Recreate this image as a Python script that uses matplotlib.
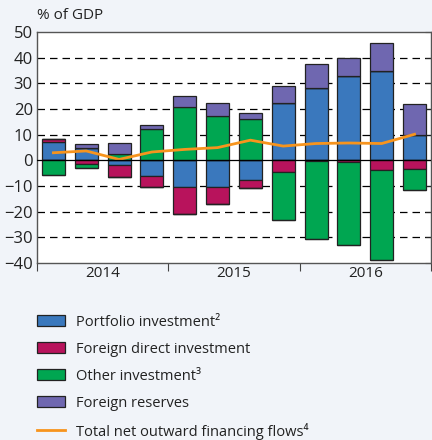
import matplotlib
matplotlib.use("Agg")
import matplotlib.pyplot as plt
import numpy as np
from matplotlib.patches import Patch
from matplotlib.lines import Line2D

quarters = ["2014Q1", "2014Q2", "2014Q3", "2014Q4", "2015Q1", "2015Q2", "2015Q3", "2015Q4",
            "2016Q1", "2016Q2", "2016Q3", "2016Q4"]
years = ["2014", "2015", "2016"]
portfolio = [7.2, 5.0, -1.7, -6.2, -10.5, -10.5, -7.6, 22.5, 28.3, 33.0, 34.7, 10.1]
fdi = [1.3, -1.3, -4.9, -4.3, -10.5, -6.5, -3.3, -4.6, -0.3, -0.5, -3.7, -3.4]
other = [-5.5, -1.6, 2.6, 12.1, 21.0, 17.4, 16.1, -18.7, -30.2, -32.3, -35.0, -8.1]
reserves = [0.0, 1.3, 4.3, 1.7, 4.3, 4.9, 2.5, 6.6, 9.1, 7.0, 11.0, 11.8]
total = [3.0, 3.7, 0.4, 3.3, 4.3, 5.0, 7.9, 5.6, 6.6, 6.8, 6.6, 10.2]

series = [
    ("Portfolio investment\u00b2", portfolio, "#3a78bd"),
    ("Foreign direct investment", fdi, "#b8135c"),
    ("Other investment\u00b3", other, "#00a651"),
    ("Foreign reserves", reserves, "#6f67b0"),
]
line_label = "Total net outward financing flows\u2074"
orange = "#f7941d"

plt.rcParams['font.family'] = ['Open Sans', 'DejaVu Sans']

fig = plt.figure(figsize=(4.32, 4.40), dpi=100, facecolor="#f1f4f9")
ax = fig.add_axes([0.0856, 0.402, 0.912, 0.525])
ax.set_facecolor("white")

x = np.arange(len(quarters)) + 0.5
pos_base = np.zeros(len(x))
neg_base = np.zeros(len(x))
for name, vals, col in series:
    v = np.array(vals, dtype=float)
    p = np.where(v > 0, v, 0)
    n = np.where(v < 0, v, 0)
    ax.bar(x, p, 0.7, bottom=pos_base, color=col, edgecolor="#222222", linewidth=0.9, zorder=3)
    ax.bar(x, n, 0.7, bottom=neg_base, color=col, edgecolor="#222222", linewidth=0.9, zorder=3)
    pos_base += p
    neg_base += n

ax.plot(x, total, color=orange, lw=2.0, zorder=4, solid_joinstyle="round")
ax.axhline(0, color="black", lw=0.9, zorder=5)

ax.set_xlim(0, 12)
ax.set_ylim(-40, 50)
for yv in [40, 30, 20, 10, -10, -20, -30]:
    ax.axhline(yv, color="black", lw=0.9, ls=(0, (6, 4)), zorder=1)

ax.set_yticks(np.arange(-40, 51, 10))
ax.tick_params(axis="y", which="both", left=False, right=True, direction="in", length=4,
               labelsize=12, pad=3, colors="#222222")
ax.tick_params(axis="y", labelleft=True, labelright=False)
ax.set_xticks([0, 4, 8, 12])
ax.set_xticklabels([])
ax.tick_params(axis="x", direction="out", length=6, color="#444444")
ax.set_xticks([2, 6, 10], minor=True)
ax.set_xticklabels(years, minor=True)
ax.tick_params(axis="x", which="minor", length=0, labelsize=11, pad=2, colors="#222222")
for s in ax.spines.values():
    s.set_color("#555555")
    s.set_linewidth(1.0)

fig.text(0.085, 0.965, "% of GDP", fontsize=11, ha="left", va="center", color="#222222")

handles = [Patch(facecolor=c, edgecolor="#222222", linewidth=0.9, label=n) for n, _, c in series]
handles.append(Line2D([0], [0], color=orange, lw=2.0, label=line_label))
leg = fig.legend(handles=handles, loc="upper left", bbox_to_anchor=(0.073, 0.298),
                 frameon=False, fontsize=10.5, handlelength=1.9, handleheight=0.8,
                 labelspacing=0.82, handletextpad=0.75, borderaxespad=0)
for t in leg.get_texts():
    t.set_color("#222222")

fig.savefig("out.png", dpi=100, facecolor=fig.get_facecolor())
